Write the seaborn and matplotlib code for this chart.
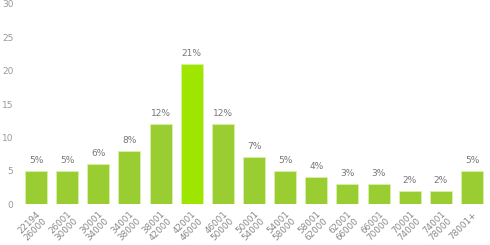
import matplotlib
matplotlib.use("Agg")
import matplotlib.pyplot as plt
import seaborn as sns
import pandas as pd

categories = ["22194\n26000", "26001\n30000", "30001\n34000", "34001\n38000", "38001\n42000",
              "42001\n46000", "46001\n50000", "50001\n54000", "54001\n58000", "58001\n62000",
              "62001\n66000", "66001\n70000", "70001\n74000", "74001\n78000", "78001+"]
values = [5, 5, 6, 8, 12, 21, 12, 7, 5, 4, 3, 3, 2, 2, 5]
labels = ["5%", "5%", "6%", "8%", "12%", "21%", "12%", "7%", "5%", "4%", "3%", "3%", "2%", "2%", "5%"]
highlight = "42001\n46000"

sns.set_theme(style="white")
plt.rcParams['font.family'] = ['DejaVu Sans']

df = pd.DataFrame({"cat": categories, "val": values})
palette = {c: ("#9ee600" if c == highlight else "#9acd32") for c in categories}

fig = plt.figure(figsize=(4.9, 2.45), dpi=100)
ax = fig.add_axes([0.0417, 0.167, 0.9533, 0.817])
sns.barplot(data=df, x="cat", y="val", hue="cat", palette=palette, legend=False,
            width=0.71, ax=ax, edgecolor="#d8f0a8", linewidth=0.6, saturation=1)

ax.set_ylim(0, 30)
ax.set_yticks([0, 5, 10, 15, 20, 25, 30])
ax.set_xlim(-0.5, len(categories) - 0.5)
for i, (v, t) in enumerate(zip(values, labels)):
    ax.text(i, v + 0.9, t, ha="center", va="bottom", fontsize=6.5, color="#777777")

ax.set_xlabel("")
ax.set_ylabel("")
ax.tick_params(axis="y", length=0, labelsize=6.5, labelcolor="#999999", pad=5)
ax.tick_params(axis="x", length=0, labelsize=6.3, labelcolor="#888888", pad=4)
plt.setp(ax.get_xticklabels(), rotation=45, ha="right", rotation_mode="anchor", linespacing=1.0)
for s in ax.spines.values():
    s.set_visible(False)

fig.savefig("out.png", dpi=100)
